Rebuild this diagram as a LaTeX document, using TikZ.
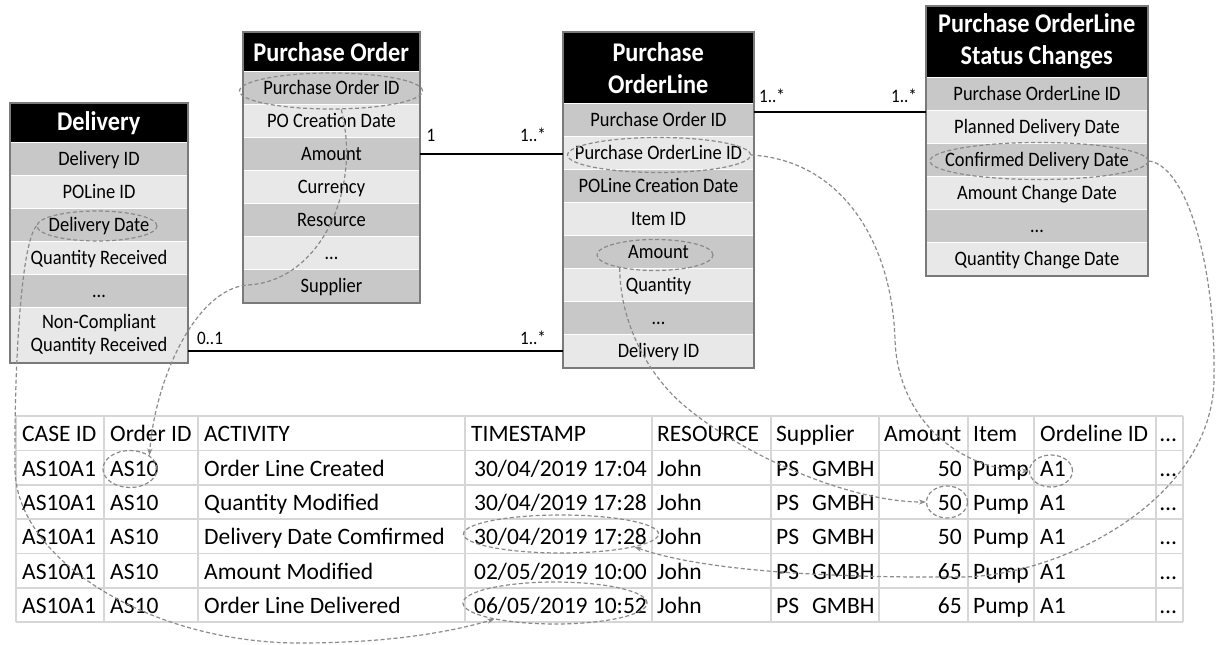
\documentclass[tikz,border=0pt]{standalone}
\usepackage{fontspec}
\setmainfont{Carlito}
\newfontfamily\boxfamily{Carlito}[FakeStretch=0.9]
\usetikzlibrary{shapes.geometric,arrows.meta,calc}
\definecolor{rowdark}{HTML}{C8C8C8}
\definecolor{rowlight}{HTML}{E8E8E8}
\definecolor{linkgray}{HTML}{8A8A8A}
\definecolor{gridgray}{HTML}{D6D6D6}
\definecolor{boxgray}{HTML}{7A7A7A}
\newcommand\hdrfont{\boxfamily\fontsize{27}{32}\selectfont\bfseries}
\newcommand\rowfont{\boxfamily\fontsize{20.5}{23}\selectfont}
\newcommand\multfont{\boxfamily\fontsize{19}{22}\selectfont}
\newcommand\cellfont{\fontsize{23.5}{28}\selectfont}
\newcommand\erbox[6]{\node[hdr,minimum width=#3,minimum height=#5] (#1-h) at (#2,#4) {#6};}
\newcommand\errows[5]{\foreach \txt/\shade [count=\i] in {#5} {\node[erow,fill=\shade,minimum width=#3,minimum height=33] (#1-\i) at (#2,{#4+(\i-1)*33}) {\txt};}}
\newcommand\cellsA[6]{%
 \node[cell] (t-#1-1) at (22,#2) {#3};
 \node[cell] (t-#1-2) at (110,#2) {#4};
 \node[cell] (t-#1-3) at (204,#2) {#5};
 \node[rcell] (t-#1-4) at (647,#2) {#6};}
\newcommand\cellsB[7]{%
 \node[cell] (t-#1-5) at (657,#2) {#3};
 \node[cell] (t-#1-6) at (776,#2) {#4};
 \node[rcell] (t-#1-7) at (962,#2) {#5};
 \node[cell] (t-#1-8) at (973,#2) {#6};
 \node[cell] (t-#1-9) at (1040,#2) {#7};
 \node[cell] (t-#1-10) at (1160,#2) {…};}
\begin{document}
\begin{tikzpicture}[x=1pt,y=-1pt,
 hdr/.style={fill=black,text=white,font=\hdrfont,align=center,inner sep=0pt,anchor=north west},
 erow/.style={draw=white,line width=1pt,font=\rowfont,inner sep=0pt,anchor=north west,text height=13.5pt,text depth=0pt},
 erowtwo/.style={draw=white,line width=1pt,font=\rowfont,inner sep=0pt,anchor=north west,align=center},
 outline/.style={draw=boxgray,line width=1.5pt},
 assoc/.style={draw=black,line width=2pt},
 mult/.style={font=\multfont,inner sep=0pt},
 oval/.style={ellipse,draw=linkgray,line width=1.2pt,dash pattern=on 4pt off 2.5pt,inner sep=0pt},
 link/.style={draw=linkgray,line width=1.2pt,dash pattern=on 4pt off 2.5pt,-{Stealth[length=7pt,width=5pt]}},
 cell/.style={font=\cellfont,inner sep=0pt,anchor=base west},
 rcell/.style={font=\cellfont,inner sep=0pt,anchor=base east},
 tgrid/.style={draw=gridgray,line width=1.6pt}]
\useasboundingbox (0,0) rectangle (1216,645);
\fill[white] (0,0) rectangle (1216,645);

% ---------- event log table ----------
\foreach \x in {16,104,198,465,652,771,879,968,1034,1156,1183} \draw[tgrid] (\x,416) -- (\x,622);
\foreach \y in {416,450.5,485,519,553.5,588,622} \draw[tgrid] (16,\y) -- (1183,\y);
\node[cell] (th-1) at (22,441) {CASE ID};
\node[cell] (th-2) at (110,441) {Order ID};
\node[cell] (th-3) at (204,441) {ACTIVITY};
\node[cell] (th-4) at (471,441) {TIMESTAMP};
\node[cell] (th-5) at (657,441) {RESOURCE};
\node[cell] (th-6) at (776,441) {Supplier};
\node[cell] (th-7) at (884,441) {Amount};
\node[cell] (th-8) at (973,441) {Item};
\node[cell] (th-9) at (1040,441) {Ordeline ID};
\node[cell] (th-10) at (1160,441) {…};
\cellsA{1}{476}{AS10A1}{AS10}{Order Line Created}{30/04/2019 17:04}
\cellsB{1}{476}{John}{PS\hspace{13pt}GMBH}{50}{Pump}{A1}
\cellsA{2}{510}{AS10A1}{AS10}{Quantity Modified}{30/04/2019 17:28}
\cellsB{2}{510}{John}{PS\hspace{13pt}GMBH}{50}{Pump}{A1}
\cellsA{3}{544}{AS10A1}{AS10}{Delivery Date Comfirmed}{30/04/2019 17:28}
\cellsB{3}{544}{John}{PS\hspace{13pt}GMBH}{50}{Pump}{A1}
\cellsA{4}{579}{AS10A1}{AS10}{Amount Modified}{02/05/2019 10:00}
\cellsB{4}{579}{John}{PS\hspace{13pt}GMBH}{65}{Pump}{A1}
\cellsA{5}{613}{AS10A1}{AS10}{Order Line Delivered}{06/05/2019 10:52}
\cellsB{5}{613}{John}{PS\hspace{13pt}GMBH}{65}{Pump}{A1}

% ---------- Delivery ----------
\erbox{del}{10}{177}{103}{39}{Delivery}
\errows{del}{10}{177}{142}{Delivery ID/rowdark,POLine ID/rowlight,Delivery Date/rowdark,Quantity Received/rowlight,…/rowdark}
\node[erowtwo,fill=rowlight,minimum width=177,minimum height=55] (del-6) at (10,307) {Non-Compliant\\Quantity Received};
\draw[outline] (del-h.north west) rectangle (del-6.south east);

% ---------- Purchase Order ----------
\erbox{po}{243}{176}{32}{39}{Purchase Order}
\errows{po}{243}{176}{71}{Purchase Order ID/rowdark,PO Creation Date/rowlight,Amount/rowdark,Currency/rowlight,Resource/rowdark,…/rowlight,Supplier/rowdark}
\draw[outline] (po-h.north west) rectangle (po-7.south east);

% ---------- Purchase OrderLine ----------
\erbox{pol}{563}{190}{32}{71}{Purchase\\OrderLine}
\errows{pol}{563}{190}{103}{Purchase Order ID/rowdark,Purchase OrderLine ID/rowlight,POLine Creation Date/rowdark,Item ID/rowlight,Amount/rowdark,Quantity/rowlight,…/rowdark,Delivery ID/rowlight}
\draw[outline] (pol-h.north west) rectangle (pol-8.south east);

% ---------- Status Changes ----------
\erbox{st}{926}{221}{6}{71}{Purchase OrderLine\\Status Changes}
\errows{st}{926}{221}{77}{Purchase OrderLine ID/rowdark,Planned Delivery Date/rowlight,Confirmed Delivery Date/rowdark,Amount Change Date/rowlight,…/rowdark,Quantity Change Date/rowlight}
\draw[outline] (st-h.north west) rectangle (st-6.south east);

% ---------- associations ----------
\draw[assoc] (po-3.east) -- (po-3.east -| pol-2.west);
\draw[assoc] (pol-8.west) -- (pol-8.west -| del-6.east);
\path ([yshift=8.5pt]pol-1.east) coordinate (s1);
\draw[assoc] (s1) -- (s1 -| st-1.west);
\node[mult] (m1) at (431,135) {1};
\node[mult] (m2) at (533,135) {1..*};
\node[mult] (m3) at (772,96) {1..*};
\node[mult] (m4) at (904,96) {1..*};
\node[mult] (m5) at (210,338) {0..1};
\node[mult] (m6) at (533,338) {1..*};

% ---------- highlight ovals ----------
\node[oval,minimum width=183,minimum height=36] (e-poid) at (331,91) {};
\node[oval,minimum width=120,minimum height=30] (e-dd) at (97,226) {};
\node[oval,minimum width=183,minimum height=35] (e-olid) at (659,155) {};
\node[oval,minimum width=116,minimum height=31] (e-amt) at (655,255) {};
\node[oval,minimum width=218,minimum height=37] (e-conf) at (1039,161) {};
\node[oval,minimum width=54,minimum height=37] (e-as10) at (130,469) {};
\node[oval,minimum width=43,minimum height=32] (e-a1) at (1051,471) {};
\node[oval,minimum width=41,minimum height=32] (e-fifty) at (947,502) {};
\node[oval,minimum width=195,minimum height=38] (e-ts3) at (561,534) {};
\node[oval,minimum width=184,minimum height=42] (e-ts5) at (555,603) {};

% ---------- mapping links ----------
\draw[link] (e-poid.-61) .. controls (362,190) and (320,282) .. (247,285) .. controls (195,290) and (155,380) .. (e-as10.35);
\draw[link] (e-dd.west) .. controls (20,245) and (14,380) .. (15,470) .. controls (17,560) and (150,643) .. (300,643) .. controls (390,643) and (450,632) .. (e-ts5.195);
\draw[link] (e-olid.east) .. controls (840,160) and (892,240) .. (895,340) .. controls (898,420) and (960,470) .. (e-a1.west);
\draw[link] (e-amt.200) .. controls (620,320) and (645,370) .. (680,402) .. controls (740,455) and (850,502) .. (e-fifty.west);
\draw[link] (e-conf.east) .. controls (1185,165) and (1216,260) .. (1214,380) .. controls (1212,500) and (1060,577) .. (960,577) .. controls (820,578) and (700,570) .. (e-ts3.-10);
\end{tikzpicture}
\end{document}
